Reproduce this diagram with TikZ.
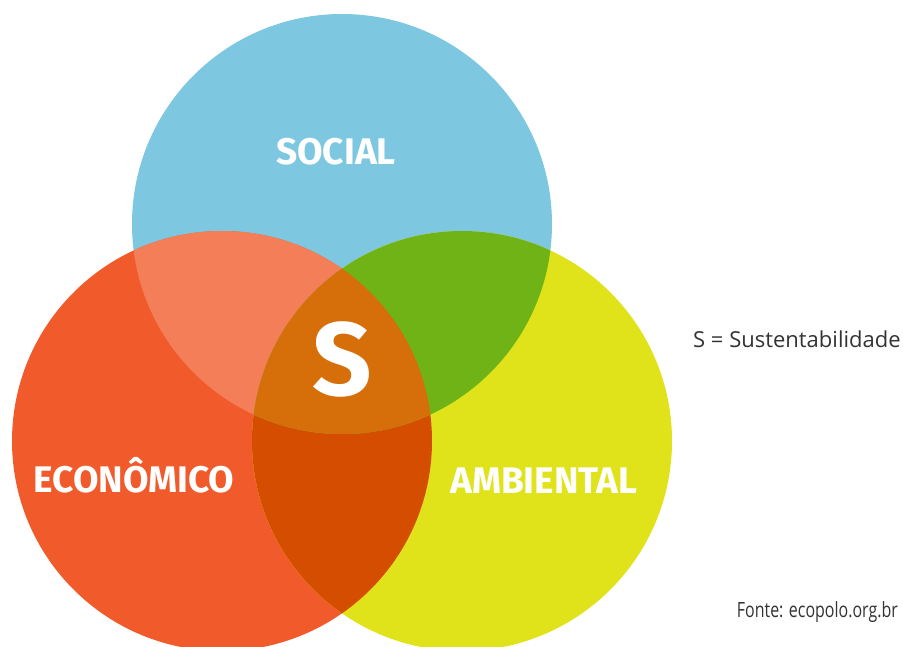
\documentclass[tikz,border=0pt]{standalone}
\usepackage{fontspec}
\setsansfont{Fira Sans}
\newfontfamily\notefont{Open Sans}
\usepackage{xcolor}
\usetikzlibrary{positioning}
\definecolor{socialblue}{HTML}{7DC8E0}
\definecolor{econred}{HTML}{F15A2B}
\definecolor{ambyellow}{HTML}{E1E31A}
\definecolor{socecon}{HTML}{F37E58}
\definecolor{socamb}{HTML}{6FB316}
\definecolor{econamb}{HTML}{D54E00}
\definecolor{allthree}{HTML}{D66E09}
\definecolor{notegray}{HTML}{333333}
\tikzset{%
    % Specifications for style of nodes:
    plain/.style = {inner sep=0pt, anchor=base},
    circlelabel/.style = {plain, text=white, font=\sffamily\bfseries\fontsize{37}{40}\selectfont},
    bigletter/.style = {plain, text=white, font=\sffamily\bfseries\fontsize{104}{110}\selectfont},
    note/.style = {plain, text=notegray, font=\notefont\fontsize{22}{26}\selectfont}
}
\begin{document}
\begin{tikzpicture}[x=1pt, y=-1pt]
    \useasboundingbox (0,0) rectangle (903,647);
    \def\social{(342,224) circle (210pt)}
    \def\econ{(222,441) circle (210pt)}
    \def\amb{(462,441) circle (210pt)}
    % the three circles
    \fill[socialblue] \social;
    \fill[econred] \econ;
    \fill[ambyellow] \amb;
    % overlaps
    \begin{scope}
        \clip \econ;
        \fill[econamb] \amb;
    \end{scope}
    \begin{scope}
        \clip \social;
        \fill[socecon] \econ;
        \fill[socamb] \amb;
        \clip \econ;
        \fill[allthree] \amb;
    \end{scope}
    % labels
    \node[circlelabel] (socialtxt) at (336,165) {SOCIAL};
    \node[circlelabel] (econtxt) at (134,492) {ECONÔMICO};
    \node[circlelabel] (ambtxt) at (544,493) {AMBIENTAL};
    \node[bigletter] (stxt) at (342,395) {S};
    \node[note, anchor=base west] (legend) at (693,347) {S = Sustentabilidade};
    \node[note, anchor=base east, font=\notefont\fontsize{21}{24}\selectfont] (source) at (898,617) {\scalebox{0.76}[1]{Fonte: ecopolo.org.br}};
\end{tikzpicture}
\end{document}
